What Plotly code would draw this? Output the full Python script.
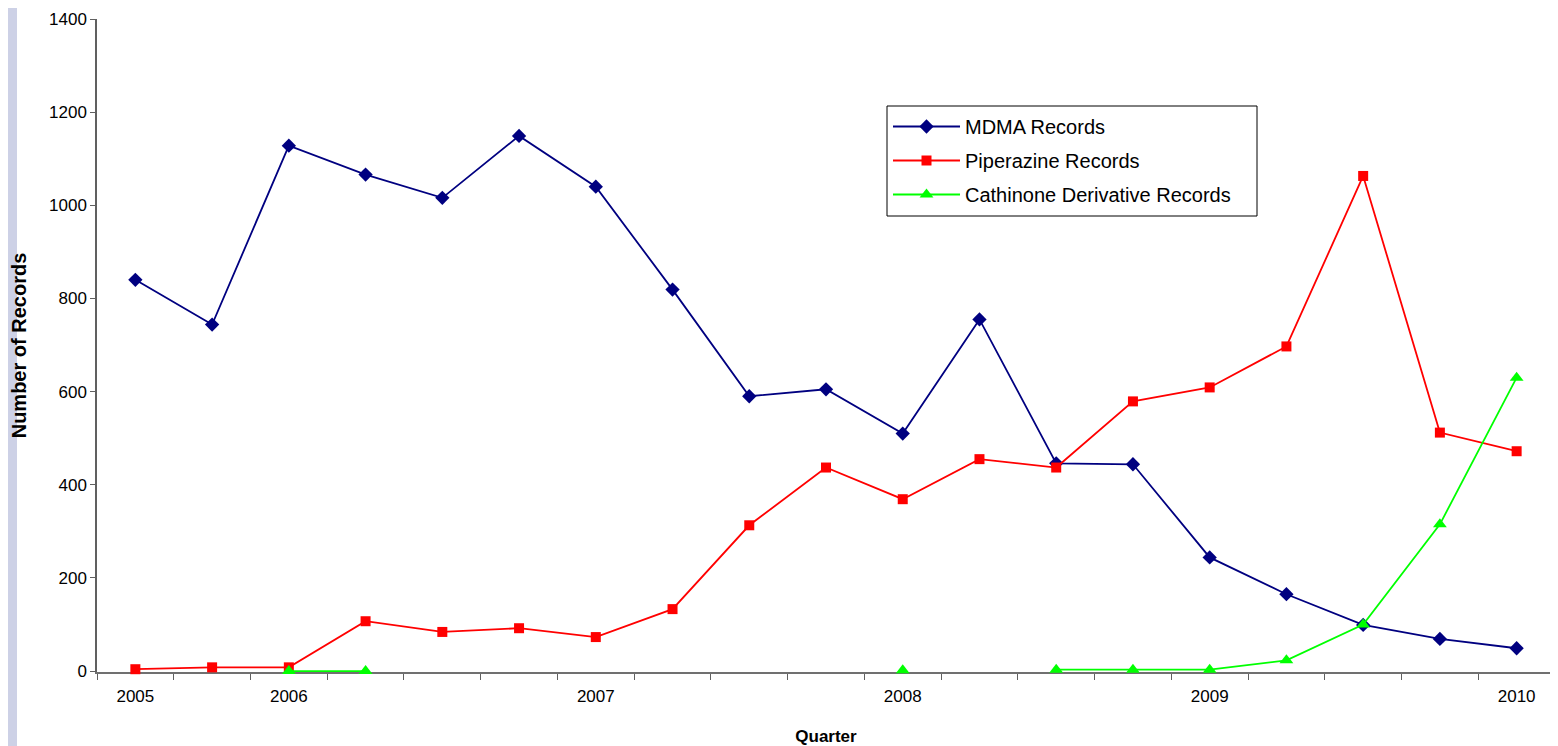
import plotly.graph_objects as go

quarter_index = list(range(19))
tick_positions = [0, 2, 6, 10, 14, 18]
tick_labels = ["2005", "2006", "2007", "2008", "2009", "2010"]

mdma = [840, 744, 1128, 1066, 1016, 1149, 1040, 819, 590, 605, 510, 755, 446, 444, 244, 165, 99, 69, 49]
piperazine = [4, 8, 8, 107, 84, 92, 73, 133, 313, 437, 369, 455, 437, 579, 609, 697, 1063, 512, 472]
cathinone = [None, None, 0, 0, None, None, None, None, None, None, 2, None, 3, 3, 3, 23, 100, 315, 630]

fig = go.Figure()
fig.add_trace(go.Scatter(x=quarter_index, y=mdma, name="MDMA Records", mode="lines+markers",
                         legendgroup="a", cliponaxis=False,
                         line=dict(color="#000080", width=1.8),
                         marker=dict(symbol="diamond", size=11, color="#000080")))
fig.add_trace(go.Scatter(x=quarter_index, y=piperazine, name="Piperazine Records", mode="lines+markers",
                         legendgroup="b", cliponaxis=False,
                         line=dict(color="#FF0000", width=1.8),
                         marker=dict(symbol="square", size=10, color="#FF0000")))
fig.add_trace(go.Scatter(x=quarter_index, y=cathinone, name="Cathinone Derivative Records", mode="lines+markers",
                         legendgroup="c", cliponaxis=False,
                         line=dict(color="#00FF00", width=1.8),
                         marker=dict(symbol="triangle-up", size=12, color="#00FF00"),
                         connectgaps=False))

# page has an 8px body margin; figure is sized/margined to compensate
W, H = 1550, 738
L, R, T, B = 89, 3, 11, 74
pw, ph = W - L - R, H - T - B


def px_x(v):
    return (v - 8 - L) / pw


def px_y(v):
    return 1 - (v - 8 - T) / ph


fig.add_shape(type="rect", xref="paper", yref="paper", x0=-L / pw, x1=(9 - L) / pw, y0=-B / ph, y1=1 + T / ph,
              fillcolor="#CDD1E6", line=dict(width=0), layer="below")
# legend frame
fig.add_shape(type="rect", xref="paper", yref="paper", x0=px_x(887), x1=px_x(1257), y0=px_y(216), y1=px_y(106),
              fillcolor="white", line=dict(color="#000000", width=1), layer="above")

fig.update_layout(
    width=W, height=H,
    margin=dict(l=L, r=R, t=T, b=B, autoexpand=False),
    paper_bgcolor="white", plot_bgcolor="white",
    font=dict(family="Liberation Sans, Arial, sans-serif", size=17, color="#000000"),
    showlegend=True,
    legend=dict(x=px_x(888), y=px_y(107), xanchor="left", yanchor="top",
                bgcolor="rgba(0,0,0,0)", borderwidth=0,
                font=dict(size=20), tracegroupgap=5, itemwidth=67),
    xaxis=dict(range=[-0.5, 18.5], tickmode="array", tickvals=tick_positions, ticktext=tick_labels,
               ticks="", showline=True, linecolor="#707070", linewidth=1.5, zeroline=False,
               showgrid=False, tickfont=dict(size=17), ticklabelstandoff=8, automargin=False,
               layer="below traces",
               minor=dict(tickmode="linear", tick0=-0.5, dtick=1, ticks="outside", ticklen=6,
                          tickcolor="#606060", tickwidth=1, showgrid=False),
               title=dict(text="<b>Quarter</b>", font=dict(size=17), standoff=26)),
    yaxis=dict(range=[-2, 1400], tickmode="linear", tick0=0, dtick=200,
               ticks="outside", ticklen=5, tickcolor="#606060", automargin=False,
               showline=True, linecolor="#606060", linewidth=1.5, zeroline=False,
               showgrid=False, tickfont=dict(size=17), layer="below traces",
               title=dict(text="<b>Number of Records</b>", font=dict(size=20), standoff=19)),
)

fig.write_html("out.html")
